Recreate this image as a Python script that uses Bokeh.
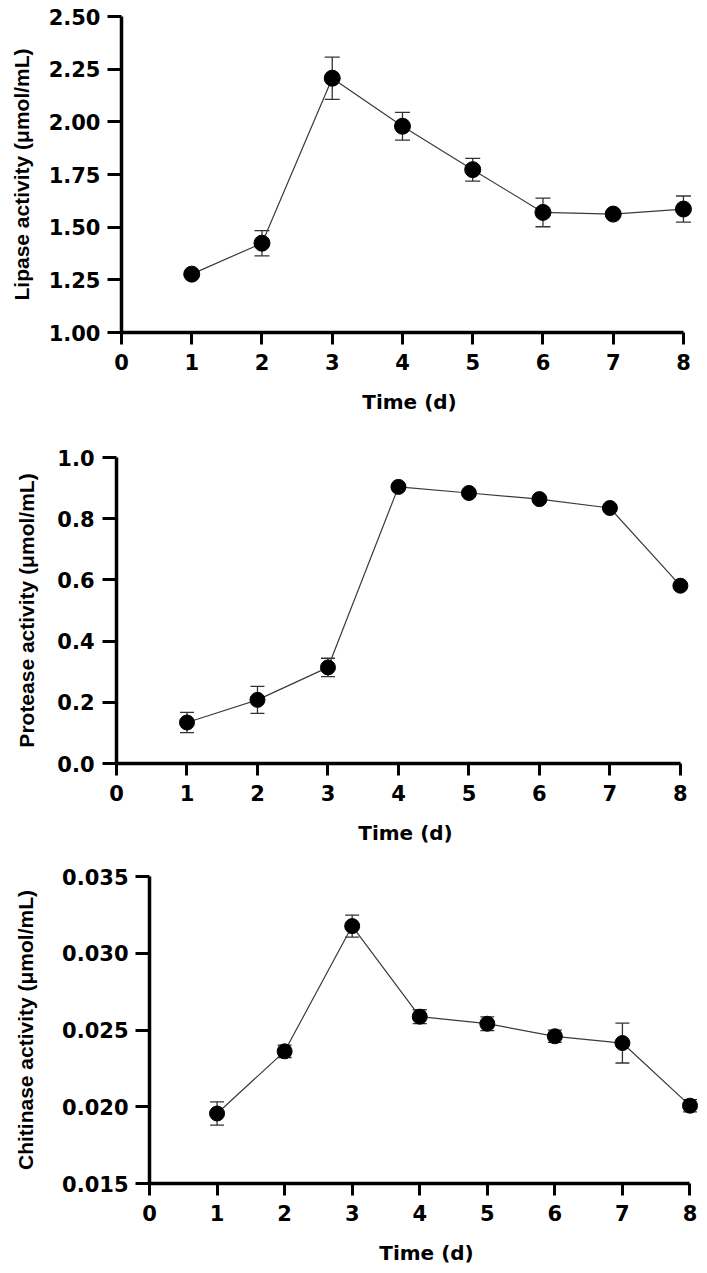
from bokeh.plotting import figure
from bokeh.models import Range1d, FixedTicker, Whisker, ColumnDataSource, TeeHead, NumeralTickFormatter
from bokeh.embed import file_html
from bokeh.resources import INLINE

# ---- data ----
days = [1, 2, 3, 4, 5, 6, 7, 8]
x_ticks = [0, 1, 2, 3, 4, 5, 6, 7, 8]

lipase = [1.277, 1.424, 2.207, 1.979, 1.773, 1.570, 1.562, 1.586]
lipase_err = [0.010, 0.060, 0.100, 0.066, 0.054, 0.068, 0.010, 0.062]
lipase_ticks = [1.00, 1.25, 1.50, 1.75, 2.00, 2.25, 2.50]

protease = [0.134, 0.208, 0.314, 0.904, 0.884, 0.864, 0.835, 0.581]
protease_err = [0.033, 0.044, 0.030, 0.005, 0.005, 0.005, 0.005, 0.005]
protease_ticks = [0.0, 0.2, 0.4, 0.6, 0.8, 1.0]

chitinase = [0.01956, 0.02361, 0.03177, 0.02587, 0.02541, 0.02459, 0.02415, 0.02007]
chitinase_err = [0.00076, 0.00040, 0.00072, 0.00045, 0.00045, 0.00040, 0.00130, 0.00040]
chitinase_ticks = [0.015, 0.020, 0.025, 0.030, 0.035]

x_label = "Time (d)"
y_labels = ["Lipase activity (μmol/mL)", "Protease activity (μmol/mL)", "Chitinase activity (μmol/mL)"]


def make_panel(values, errs, ylabel, y_ticks, y_fmt, left, top, frame_w, frame_h,
               bottom, x_end, msize, cap, ylab_standoff, ylab_std_ticks):
    p = figure(frame_width=frame_w, frame_height=frame_h,
               x_range=Range1d(0, x_end),
               y_range=Range1d(y_ticks[0], y_ticks[-1]),
               output_backend="svg", toolbar_location=None,
               min_border_left=left, min_border_top=top,
               min_border_bottom=bottom, min_border_right=0)
    p.grid.visible = False
    p.outline_line_color = None
    p.background_fill_color = "white"

    src = ColumnDataSource(dict(x=days, y=values,
                                upper=[v + e for v, e in zip(values, errs)],
                                lower=[v - e for v, e in zip(values, errs)]))
    w = Whisker(source=src, base="x", upper="upper", lower="lower",
                line_color="#333333", line_width=1.3,
                upper_head=TeeHead(size=cap, line_color="#333333", line_width=1.3),
                lower_head=TeeHead(size=cap, line_color="#333333", line_width=1.3))
    p.add_layout(w)
    p.line("x", "y", source=src, line_color="#3a3a3a", line_width=1.2)
    p.scatter("x", "y", source=src, size=msize, color="black")

    p.xaxis.ticker = FixedTicker(ticks=x_ticks)
    p.xaxis.bounds = (0, 8)
    p.yaxis.ticker = FixedTicker(ticks=y_ticks)
    p.yaxis.formatter = NumeralTickFormatter(format=y_fmt)
    for ax in (p.xaxis[0], p.yaxis[0]):
        ax.axis_line_width = 3.5
        ax.axis_line_color = "black"
        ax.major_tick_line_width = 3
        ax.major_tick_line_color = "black"
        ax.minor_tick_line_color = None
        ax.major_tick_in = 0
        ax.major_label_text_font = "DejaVu Sans"
        ax.major_label_text_font_style = "bold"
        ax.major_label_text_font_size = "21px"
        ax.major_label_text_color = "black"
        ax.axis_label_text_font_style = "bold"
        ax.axis_label_text_color = "black"
    p.xaxis.major_tick_out = 12
    p.yaxis.major_tick_out = 14
    p.xaxis.major_label_standoff = 9
    p.yaxis.major_label_standoff = ylab_std_ticks
    p.xaxis.axis_label = x_label
    p.xaxis.axis_label_text_font = "DejaVu Sans"
    p.xaxis.axis_label_text_font_size = "20px"
    p.xaxis.axis_label_standoff = 17
    p.yaxis.axis_label = ylabel
    p.yaxis.axis_label_text_font = "Liberation Sans"
    p.yaxis.axis_label_text_font_size = "21px"
    p.yaxis.axis_label_standoff = ylab_standoff
    return p


p1 = make_panel(lipase, lipase_err, y_labels[0], lipase_ticks, "0.00",
                left=121, top=16, frame_w=576, frame_h=316, bottom=98,
                x_end=8.2, msize=16, cap=15, ylab_standoff=13, ylab_std_ticks=7)
p2 = make_panel(protease, protease_err, y_labels[1], protease_ticks, "0.0",
                left=116, top=27, frame_w=578, frame_h=306, bottom=86,
                x_end=8.2, msize=15, cap=14, ylab_standoff=16, ylab_std_ticks=8)
p3 = make_panel(chitinase, chitinase_err, y_labels[2], chitinase_ticks, "0.000",
                left=149, top=27, frame_w=554, frame_h=307, bottom=90,
                x_end=8.2, msize=15, cap=14, ylab_standoff=22, ylab_std_ticks=7)

open("out.html", "w").write(file_html([p1, p2, p3], INLINE))
